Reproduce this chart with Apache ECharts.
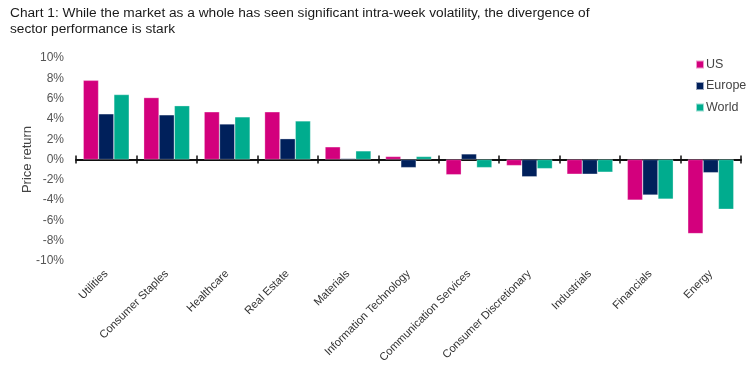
<!DOCTYPE html>
<html><head><meta charset="utf-8">
<script src="https://cdn.jsdelivr.net/npm/echarts@6/dist/echarts.min.js"></script>
<style>html,body{margin:0;padding:0;background:#fff}#c{width:756px;height:378px}</style>
</head><body><div id="c"></div>
<script>
const categories = ['Utilities','Consumer Staples','Healthcare','Real Estate','Materials','Information Technology','Communication Services','Consumer Discretionary','Industrials','Financials','Energy'];
const usValues = [7.8, 6.1, 4.7, 4.7, 1.25, 0.3, -1.5, -0.6, -1.45, -4.0, -7.3];
const europeValues = [4.5, 4.4, 3.5, 2.05, 0.1, -0.8, 0.55, -1.7, -1.45, -3.5, -1.3];
const worldValues = [6.4, 5.3, 4.2, 3.8, 0.85, 0.3, -0.8, -0.9, -1.25, -3.9, -4.9];
const yTicks = [-10, -8, -6, -4, -2, 0, 2, 4, 6, 8, 10];

const chart = echarts.init(document.getElementById('c'));
const font = 'Liberation Sans, Arial, sans-serif';
const mk = (name, data, color) => ({
  name, type: 'bar', data, xAxisIndex: 0, yAxisIndex: 0,
  itemStyle: { color, borderColor: 'rgba(255,255,255,0.6)', borderWidth: 0.5 },
  barGap: '0%', barCategoryGap: '24%'
});
const yMin = yTicks[0], yMax = yTicks[yTicks.length-1];
chart.setOption({
  animation: false,
  textStyle: { fontFamily: font },
  title: {
    text: 'Chart 1: While the market as a whole has seen significant intra-week volatility, the divergence of\nsector performance is stark',
    left: 5, top: 0,
    textStyle: { fontFamily: font, fontSize: 13.7, fontWeight: 'normal', color: '#1a1a1a', lineHeight: 16 }
  },
  legend: {
    orient: 'vertical', left: 690, top: 53, itemGap: 8.5,
    itemWidth: 8, itemHeight: 8, icon: 'rect',
    textStyle: { fontFamily: font, fontSize: 12.5, color: '#444', padding: [0,0,0,-3] },
    data: ['US','Europe','World']
  },
  grid: [
    { left: 76, right: 15, top: 58, bottom: 117 },
    { left: 76, right: 15, top: 58, bottom: 117 },
    { left: 76, right: 15, top: 58, height: 101.5 }
  ],
  xAxis: [
    { type: 'category', data: categories, position: 'bottom', gridIndex: 0,
      axisLine: { show: false, onZero: false }, axisTick: { show: false },
      axisLabel: { rotate: 45, margin: 11, fontSize: 11.2, color: '#333', fontFamily: font, interval: 0 } },
    { type: 'category', data: categories, position: 'bottom', gridIndex: 0,
      axisLine: { show: true, onZero: true, lineStyle: { color: '#111', width: 2 } },
      axisTick: { show: true, inside: false, interval: 0, length: 4, lineStyle: { color: '#111', width: 1.5 } },
      axisLabel: { show: false } },
    { type: 'category', data: categories, position: 'bottom', gridIndex: 1, show: false },
    { type: 'category', data: categories, position: 'bottom', gridIndex: 2,
      axisLine: { show: false, onZero: false },
      axisTick: { show: true, inside: true, interval: 0, length: 4, lineStyle: { color: '#111', width: 1.5 } },
      axisLabel: { show: false } }
  ],
  yAxis: [
    { type: 'value', min: yMin, max: yMax, interval: 2, gridIndex: 0,
      axisLine: { show: false }, axisTick: { show: false }, splitLine: { show: false },
      axisLabel: { formatter: v => v + '%', fontSize: 12, color: '#555', margin: 12, fontFamily: font } },
    { type: 'value', min: yMin, max: yMax, interval: 2, gridIndex: 1,
      name: 'Price return', nameLocation: 'middle', nameGap: 42,
      nameTextStyle: { fontFamily: font, fontSize: 13, color: '#444' },
      axisLine: { show: false }, axisTick: { show: false }, splitLine: { show: false }, axisLabel: { show: false } },
    { type: 'value', min: 0, max: yMax, gridIndex: 2, show: false }
  ],
  series: [
    mk('US', usValues, '#d3007d'),
    mk('Europe', europeValues, '#00205b'),
    mk('World', worldValues, '#00ac8e')
  ]
});
</script></body></html>
